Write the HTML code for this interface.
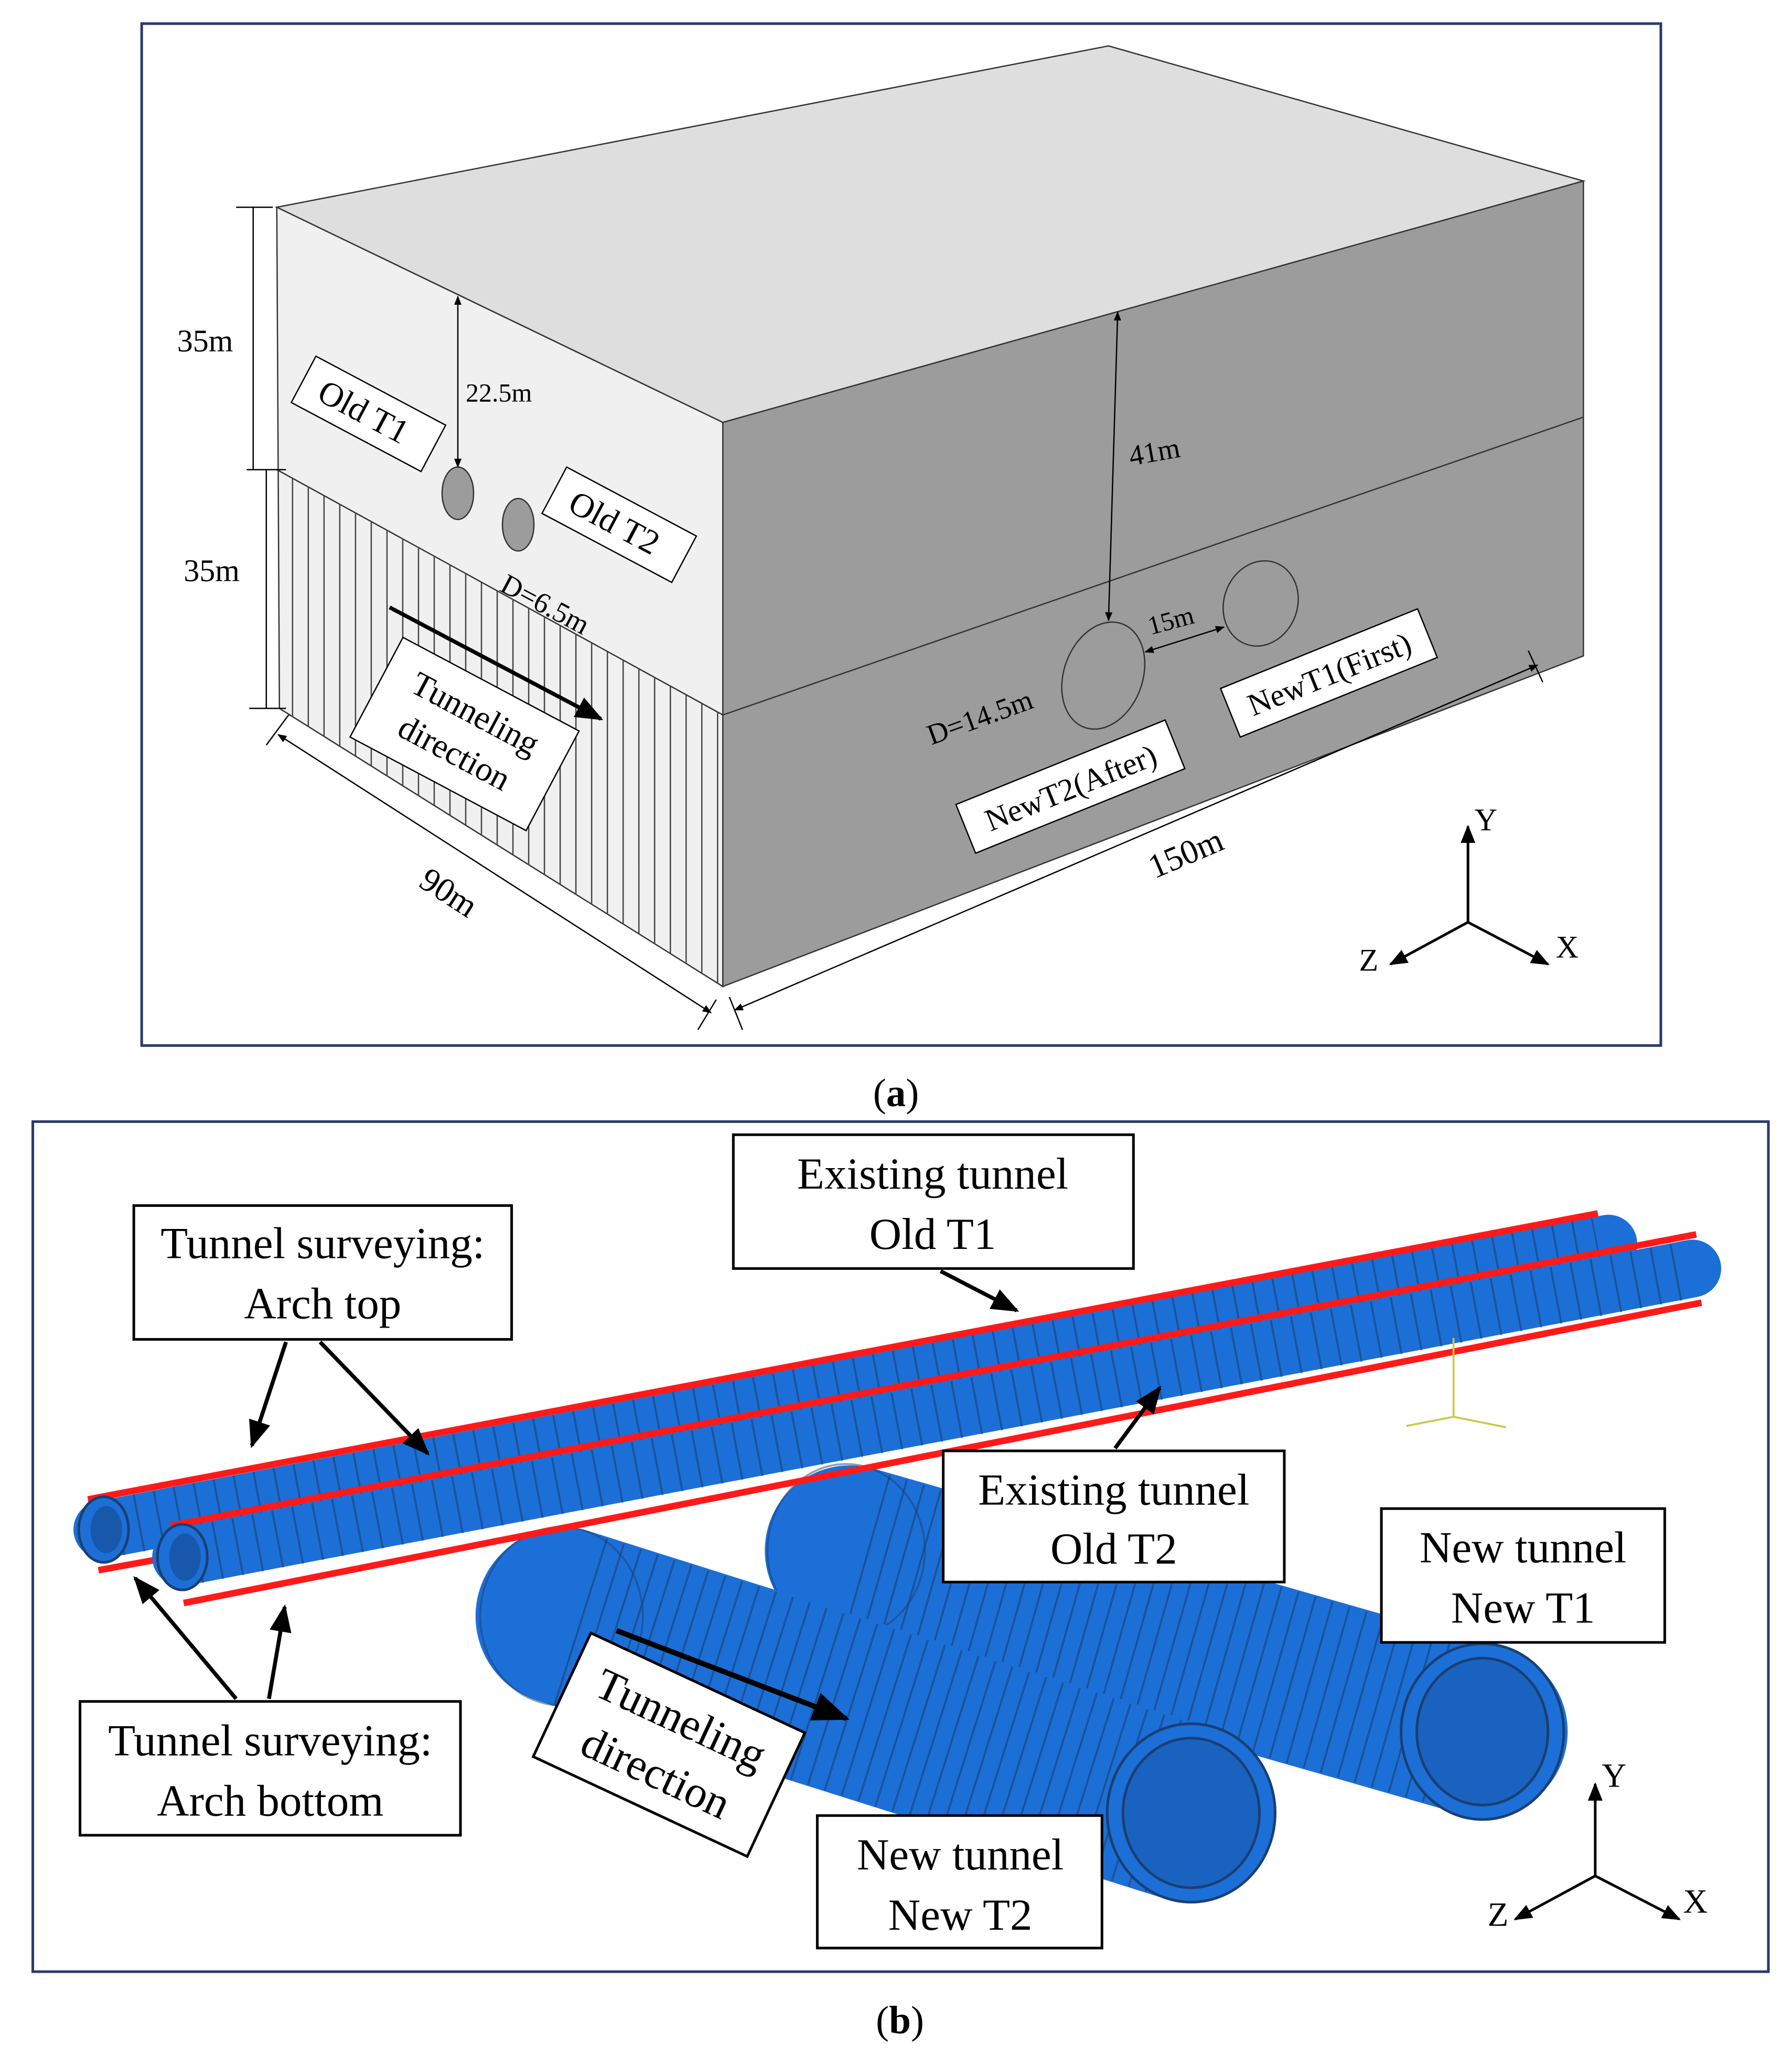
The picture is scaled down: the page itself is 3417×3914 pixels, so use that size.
<!DOCTYPE html>
<html><head><meta charset="utf-8"><style>
html,body{margin:0;padding:0;background:#fff}
svg{display:block}
text{font-family:"Liberation Serif",serif;fill:#000}
</style></head><body>
<svg width="3417" height="3914" viewBox="0 0 1366 1565" preserveAspectRatio="none" xmlns="http://www.w3.org/2000/svg">
<defs>
<marker id="ar" viewBox="0 0 10 10" refX="9" refY="5" markerWidth="7" markerHeight="7" orient="auto-start-reverse"><path d="M0,1 L10,5 L0,9 z" fill="#000"/></marker>
<clipPath id="hatch"><polygon points="211,358 551,545 551,752 213,540"/></clipPath>
</defs>
<!-- Panel a -->
<rect x="108" y="18" width="1158" height="779" fill="#fff" stroke="#2b3a67" stroke-width="2"/>
<polygon points="211,158 845,35 1207,138 551,322" fill="#dedede" stroke="#333" stroke-width="1"/>
<polygon points="211,158 551,322 551,752 213,540" fill="#f0f0f0" stroke="#333" stroke-width="1"/>
<polygon points="551,322 1207,138 1207,500 551,752" fill="#9c9c9c" stroke="#333" stroke-width="1"/>
<line x1="211" y1="358" x2="551" y2="545" stroke="#333"/>
<line x1="551" y1="545" x2="1207" y2="318" stroke="#333"/>
<g clip-path="url(#hatch)" stroke="#444" stroke-width="1">
<path d="M223,300V800M235,300V800M247,300V800M259,300V800M271,300V800M283,300V800M295,300V800M307,300V800M319,300V800M331,300V800M343,300V800M355,300V800M367,300V800M379,300V800M391,300V800M403,300V800M415,300V800M427,300V800M439,300V800M451,300V800M463,300V800M475,300V800M487,300V800M499,300V800M511,300V800M523,300V800M535,300V800M547,300V800"/>
</g>
<ellipse cx="349" cy="376" rx="12" ry="20" fill="#9c9c9c" stroke="#333"/>
<ellipse cx="395" cy="400" rx="12" ry="20" fill="#9c9c9c" stroke="#333"/>
<ellipse cx="841" cy="515" rx="30" ry="42" fill="#9c9c9c" stroke="#333" transform="rotate(20 841 515)"/>
<ellipse cx="961" cy="460" rx="28" ry="33" fill="#9c9c9c" stroke="#333" transform="rotate(20 961 460)"/>
<!-- dims -->
<line x1="193" y1="158" x2="193" y2="358" stroke="#000"/><line x1="203" y1="358" x2="203" y2="540" stroke="#000"/>
<line x1="180" y1="158" x2="208" y2="158" stroke="#000"/><line x1="188" y1="358" x2="218" y2="358" stroke="#000"/><line x1="190" y1="540" x2="218" y2="540" stroke="#000"/>
<text x="135" y="268" font-size="24">35m</text><text x="140" y="443" font-size="24">35m</text>
<line x1="349" y1="226" x2="349" y2="356" stroke="#000" marker-start="url(#ar)" marker-end="url(#ar)"/>
<text x="355" y="306" font-size="20">22.5m</text>
<line x1="852" y1="238" x2="845" y2="473" stroke="#000" marker-start="url(#ar)" marker-end="url(#ar)"/>
<text x="862" y="355" font-size="22" transform="rotate(-10 862 355)">41m</text>
<line x1="873" y1="497" x2="933" y2="478" stroke="#000" marker-start="url(#ar)" marker-end="url(#ar)"/>
<text x="877" y="484" font-size="20" transform="rotate(-15 877 484)">15m</text>
<line x1="212" y1="560" x2="542" y2="772" stroke="#000" marker-start="url(#ar)" marker-end="url(#ar)"/>
<line x1="203" y1="568" x2="220" y2="545" stroke="#000"/><line x1="532" y1="785" x2="546" y2="762" stroke="#000"/>
<text x="318" y="675" font-size="26" transform="rotate(33 318 675)">90m</text>
<line x1="560" y1="770" x2="1172" y2="507" stroke="#000" marker-start="url(#ar)" marker-end="url(#ar)"/>
<line x1="556" y1="760" x2="566" y2="785" stroke="#000"/><line x1="1165" y1="496" x2="1176" y2="520" stroke="#000"/>
<text x="880" y="670" font-size="26" transform="rotate(-23 880 670)">150m</text>
<text x="380" y="450" font-size="22" transform="rotate(28 380 450)">D=6.5m</text>
<text x="710" y="568" font-size="22" transform="rotate(-20 710 568)">D=14.5m</text>
<g transform="rotate(28 280 315)"><rect x="225" y="295" width="112" height="40" fill="#fff" stroke="#000"/><text x="240" y="324" font-size="26">Old T1</text></g>
<g transform="rotate(28 472 400)"><rect x="416" y="380" width="112" height="40" fill="#fff" stroke="#000"/><text x="431" y="409" font-size="26">Old T2</text></g>
<g transform="rotate(28 355 560)"><rect x="278" y="517" width="152" height="86" fill="#fff" stroke="#000"/><text x="354" y="551" font-size="26" text-anchor="middle">Tunneling</text><text x="354" y="585" font-size="26" text-anchor="middle">direction</text></g>
<line x1="297" y1="463" x2="458" y2="548" stroke="#000" stroke-width="3" marker-end="url(#ar)"/>
<g transform="rotate(-22 815 600)"><rect x="730" y="580" width="172" height="40" fill="#fff" stroke="#000"/><text x="816" y="609" font-size="24" text-anchor="middle">NewT2(After)</text></g>
<g transform="rotate(-22 1013 513)"><rect x="932" y="493" width="162" height="40" fill="#fff" stroke="#000"/><text x="1013" y="522" font-size="24" text-anchor="middle">NewT1(First)</text></g>
<line x1="1119" y1="703" x2="1119" y2="630" stroke="#000" stroke-width="2" marker-end="url(#ar)"/>
<line x1="1119" y1="703" x2="1060" y2="735" stroke="#000" stroke-width="2" marker-end="url(#ar)"/>
<line x1="1119" y1="703" x2="1180" y2="735" stroke="#000" stroke-width="2" marker-end="url(#ar)"/>
<text x="1124" y="633" font-size="24">Y</text><text x="1036" y="740" font-size="24">Z</text><text x="1186" y="730" font-size="24">X</text>
<text x="683" y="843" font-size="30" text-anchor="middle">(<tspan font-weight="bold">a</tspan>)</text>

<!-- Panel b -->
<rect x="25" y="855" width="1323" height="648" fill="#fff" stroke="#2b3a67" stroke-width="2"/>
<!-- New T1 -->
<line x1="648" y1="1182" x2="1130" y2="1320" stroke="#1c6fd6" stroke-width="130" stroke-linecap="round"/>
<line x1="660" y1="1186" x2="1120" y2="1317" stroke="#1a3f73" stroke-width="128" stroke-dasharray="1.5 12" opacity="0.6"/>
<ellipse cx="645" cy="1182" rx="60" ry="66" fill="none" stroke="#1a3f73" stroke-width="1.5" opacity="0.5"/>
<ellipse cx="1130" cy="1320" rx="62" ry="67" fill="#1c6fd6" stroke="#1a3f73" stroke-width="2"/>
<ellipse cx="1130" cy="1320" rx="50" ry="56" fill="#1a62bf" stroke="#1a3f73" stroke-width="2"/>
<!-- New T2 -->
<line x1="430" y1="1232" x2="905" y2="1382" stroke="#1c6fd6" stroke-width="135" stroke-linecap="round"/>
<line x1="442" y1="1236" x2="895" y2="1379" stroke="#1a3f73" stroke-width="133" stroke-dasharray="1.5 12" opacity="0.6"/>
<ellipse cx="428" cy="1232" rx="62" ry="68" fill="none" stroke="#1a3f73" stroke-width="1.5" opacity="0.5"/>
<ellipse cx="908" cy="1382" rx="64" ry="68" fill="#1c6fd6" stroke="#1a3f73" stroke-width="2"/>
<ellipse cx="908" cy="1382" rx="52" ry="57" fill="#1a62bf" stroke="#1a3f73" stroke-width="2"/>
<!-- Old T1 -->
<line x1="78" y1="1166" x2="1226" y2="948" stroke="#1c6fd6" stroke-width="44" stroke-linecap="round"/>
<line x1="90" y1="1164" x2="1218" y2="950" stroke="#1a3f73" stroke-width="44" stroke-dasharray="1.5 14" opacity="0.6"/>
<line x1="67" y1="1143" x2="1218" y2="925" stroke="#ff1a1a" stroke-width="5"/>
<line x1="75" y1="1197" x2="130" y2="1187" stroke="#ff1a1a" stroke-width="5"/>
<ellipse cx="79" cy="1166" rx="19" ry="25" fill="#1c6fd6" stroke="#1a3f73" stroke-width="2"/>
<ellipse cx="81" cy="1166" rx="12" ry="18" fill="#1858aa"/>
<!-- Old T2 -->
<line x1="138" y1="1187" x2="1290" y2="967" stroke="#1c6fd6" stroke-width="44" stroke-linecap="round"/>
<line x1="150" y1="1185" x2="1282" y2="969" stroke="#1a3f73" stroke-width="44" stroke-dasharray="1.5 14" opacity="0.6"/>
<line x1="130" y1="1163" x2="1293" y2="941" stroke="#ff1a1a" stroke-width="5"/>
<line x1="140" y1="1222" x2="1297" y2="993" stroke="#ff1a1a" stroke-width="5"/>
<ellipse cx="139" cy="1187" rx="19" ry="25" fill="#1c6fd6" stroke="#1a3f73" stroke-width="2"/>
<ellipse cx="141" cy="1187" rx="12" ry="18" fill="#1858aa"/>
<!-- small axis -->
<g stroke="#c8c84a" stroke-width="1.5"><line x1="1108" y1="1080" x2="1108" y2="1020"/><line x1="1108" y1="1080" x2="1072" y2="1087"/><line x1="1108" y1="1080" x2="1148" y2="1088"/></g>
<!-- labels -->
<rect x="102" y="919" width="288" height="102" fill="#fff" stroke="#000" stroke-width="2"/>
<text x="246" y="959" font-size="34" text-anchor="middle">Tunnel surveying:</text><text x="246" y="1005" font-size="34" text-anchor="middle">Arch top</text>
<rect x="559" y="865" width="305" height="102" fill="#fff" stroke="#000" stroke-width="2"/>
<text x="711" y="906" font-size="34" text-anchor="middle">Existing tunnel</text><text x="711" y="952" font-size="34" text-anchor="middle">Old T1</text>
<rect x="719" y="1106" width="260" height="100" fill="#fff" stroke="#000" stroke-width="2"/>
<text x="849" y="1147" font-size="34" text-anchor="middle">Existing tunnel</text><text x="849" y="1192" font-size="34" text-anchor="middle">Old T2</text>
<rect x="1053" y="1150" width="216" height="102" fill="#fff" stroke="#000" stroke-width="2"/>
<text x="1161" y="1191" font-size="34" text-anchor="middle">New tunnel</text><text x="1161" y="1237" font-size="34" text-anchor="middle">New T1</text>
<rect x="61" y="1297" width="290" height="102" fill="#fff" stroke="#000" stroke-width="2"/>
<text x="206" y="1338" font-size="34" text-anchor="middle">Tunnel surveying:</text><text x="206" y="1384" font-size="34" text-anchor="middle">Arch bottom</text>
<rect x="623" y="1384" width="217" height="101" fill="#fff" stroke="#000" stroke-width="2"/>
<text x="732" y="1425" font-size="34" text-anchor="middle">New tunnel</text><text x="732" y="1471" font-size="34" text-anchor="middle">New T2</text>
<g transform="rotate(25 510 1330)"><rect x="420" y="1278" width="180" height="104" fill="#fff" stroke="#000" stroke-width="2"/><text x="510" y="1320" font-size="34" text-anchor="middle">Tunneling</text><text x="510" y="1365" font-size="34" text-anchor="middle">direction</text></g>
<line x1="470" y1="1243" x2="645" y2="1310" stroke="#000" stroke-width="4" marker-end="url(#ar)"/>
<!-- pointer arrows -->
<g stroke="#000" stroke-width="3">
<line x1="218" y1="1023" x2="192" y2="1102" marker-end="url(#ar)"/>
<line x1="244" y1="1023" x2="326" y2="1108" marker-end="url(#ar)"/>
<line x1="717" y1="969" x2="775" y2="999" marker-end="url(#ar)"/>
<line x1="850" y1="1104" x2="884" y2="1058" marker-end="url(#ar)"/>
<line x1="180" y1="1295" x2="103" y2="1203" marker-end="url(#ar)"/>
<line x1="205" y1="1295" x2="217" y2="1225" marker-end="url(#ar)"/>
</g>
<line x1="1216" y1="1430" x2="1216" y2="1360" stroke="#000" stroke-width="2" marker-end="url(#ar)"/>
<line x1="1216" y1="1430" x2="1155" y2="1463" stroke="#000" stroke-width="2" marker-end="url(#ar)"/>
<line x1="1216" y1="1430" x2="1280" y2="1463" stroke="#000" stroke-width="2" marker-end="url(#ar)"/>
<text x="1221" y="1362" font-size="26">Y</text><text x="1134" y="1468" font-size="26">Z</text><text x="1283" y="1458" font-size="26">X</text>
<text x="686" y="1550" font-size="30" text-anchor="middle">(<tspan font-weight="bold">b</tspan>)</text>
</svg>
</body></html>
